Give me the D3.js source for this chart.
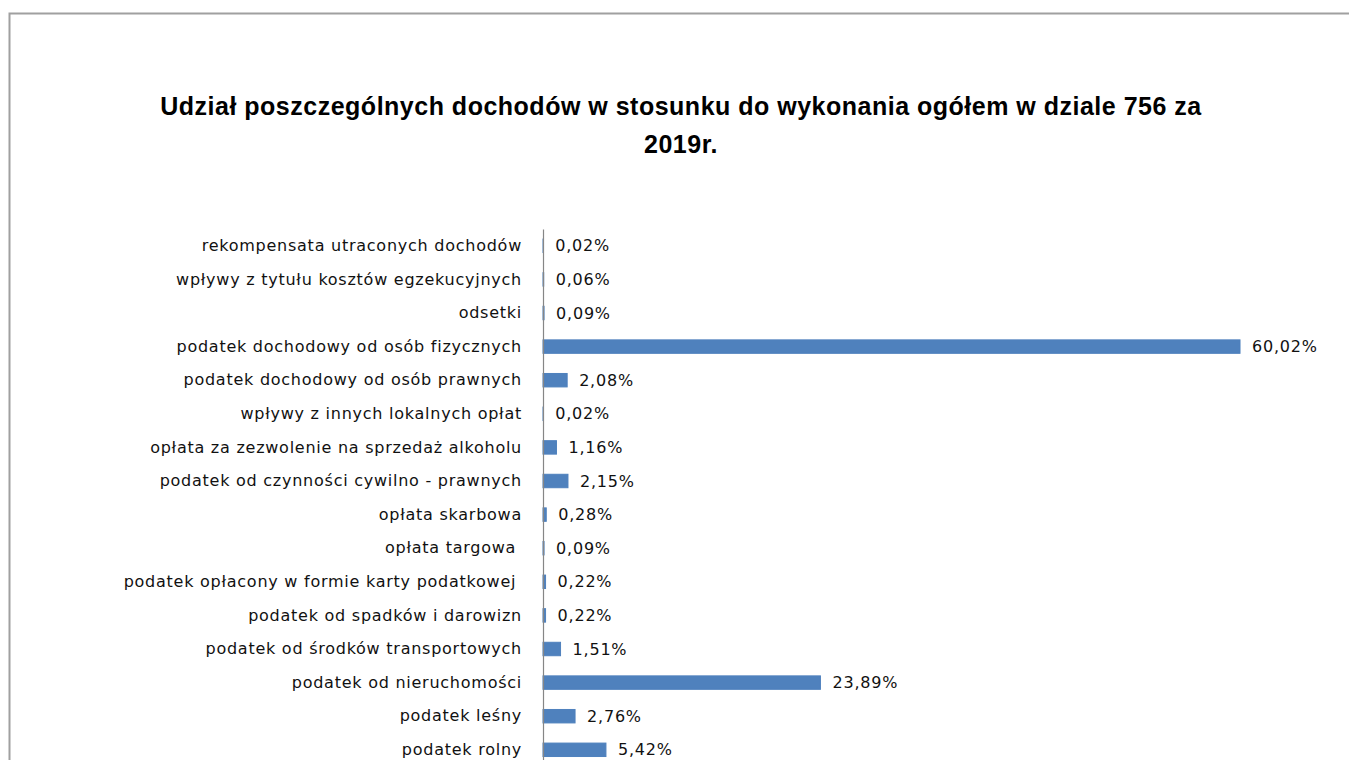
<!DOCTYPE html>
<html>
<head>
<meta charset="utf-8">
<script src="https://cdn.jsdelivr.net/npm/d3@7"></script>
<style>
  body { margin: 0; background: #fff; }
  svg { display: block; }
  text { white-space: pre; }
</style>
</head>
<body>
<script>
// SIZE
const WIDTH = 1349;
const HEIGHT = 760;

// DATA
const categories = [
  "rekompensata utraconych dochodów",
  "wpływy z tytułu kosztów egzekucyjnych",
  "odsetki",
  "podatek dochodowy od osób fizycznych",
  "podatek dochodowy od osób prawnych",
  "wpływy z innych lokalnych opłat",
  "opłata za zezwolenie na sprzedaż alkoholu",
  "podatek od czynności cywilno - prawnych",
  "opłata skarbowa",
  "opłata targowa ",
  "podatek opłacony w formie karty podatkowej ",
  "podatek od spadków i darowizn",
  "podatek od środków transportowych",
  "podatek od nieruchomości",
  "podatek leśny",
  "podatek rolny"
];
const shares = [0.02, 0.06, 0.09, 60.02, 2.08, 0.02, 1.16, 2.15, 0.28, 0.09, 0.22, 0.22, 1.51, 23.89, 2.76, 5.42];
const titleLines = [
  "Udział poszczególnych dochodów w stosunku do wykonania ogółem w dziale 756 za",
  "2019r."
];

const data = categories.map((c, i) => ({ category: c, value: shares[i] }));

const svg = d3.select("body").append("svg").attr("width", WIDTH).attr("height", HEIGHT);

// chart frame (cropped at right and bottom)
svg.append("path")
  .attr("d", `M9.5,${HEIGHT} L9.5,13.5 L${WIDTH},13.5`)
  .attr("fill", "none")
  .attr("stroke", "#a0a0a0")
  .attr("stroke-width", 2);

// TITLE
svg.append("text")
  .attr("x", 681)
  .attr("y", 115)
  .attr("text-anchor", "middle")
  .attr("font-family", "'Liberation Sans', Arial, sans-serif")
  .attr("font-weight", "bold")
  .attr("font-size", 25)
  .attr("letter-spacing", "0.5px")
  .attr("fill", "#000")
  .selectAll("tspan")
  .data(titleLines)
  .enter()
  .append("tspan")
  .attr("x", 681)
  .attr("dy", (d, i) => i === 0 ? 0 : 38)
  .text(d => d);

// SCALES
const x = d3.scaleLinear().domain([0, 70]).range([543, 543 + 70 * 11.613]);
const y = d3.scaleBand()
  .domain(categories)
  .range([229, 229 + categories.length * 33.6])
  .paddingInner(0.6)
  .paddingOuter(0.3);

const FONT = "'DejaVu Sans', Verdana, sans-serif";

// BARS
svg.append("g")
  .selectAll("rect")
  .data(data)
  .enter()
  .append("rect")
  .attr("x", x(0))
  .attr("y", d => y(d.category))
  .attr("width", d => x(d.value) - x(0))
  .attr("height", y.bandwidth())
  .attr("fill", "#4f81bd")
  .attr("stroke", "#4f81bd")
  .attr("stroke-width", 1);

// CATEGORY AXIS
const yAxis = svg.append("g")
  .attr("transform", `translate(${x(0)},0)`)
  .call(d3.axisLeft(y).tickSize(0).tickPadding(21));

yAxis.select(".domain").attr("stroke", "#868686").attr("stroke-width", 1.2);
yAxis.selectAll("text")
  .attr("font-family", FONT)
  .attr("font-size", 16)
  .attr("letter-spacing", "0.75px")
  .attr("fill", "#111");

// VALUE LABELS
const fmt = v => v.toFixed(2).replace(".", ",") + "%";
svg.append("g")
  .selectAll("text")
  .data(data)
  .enter()
  .append("text")
  .attr("x", d => x(d.value) + 12)
  .attr("y", d => y(d.category) + y.bandwidth() / 2)
  .attr("dy", "0.35em")
  .attr("font-family", FONT)
  .attr("font-size", 16)
  .attr("letter-spacing", "0.8px")
  .attr("fill", "#111")
  .text(d => fmt(d.value));
</script>
</body>
</html>
